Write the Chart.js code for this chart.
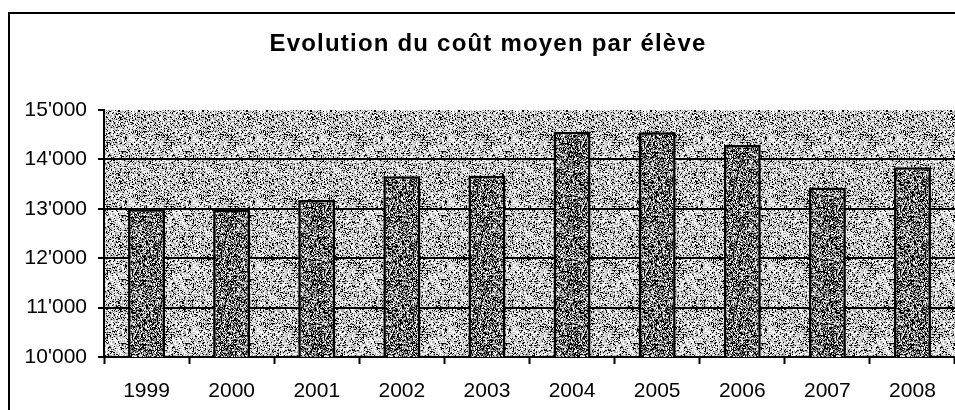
<!DOCTYPE html>
<html>
<head>
<meta charset="utf-8">
<script src="https://cdn.jsdelivr.net/npm/chart.js@4/dist/chart.umd.min.js"></script>
<style>
  html, body { margin: 0; padding: 0; background: #fff; }
  #wrap { width: 955px; height: 410px; }
</style>
</head>
<body>
<div id="wrap"><canvas id="chart" width="955" height="410"></canvas></div>
<script>
const years = ["1999", "2000", "2001", "2002", "2003", "2004", "2005", "2006", "2007", "2008"];
const coutMoyen = [12990, 12980, 13180, 13660, 13670, 14560, 14550, 14290, 13430, 13840];
const yTicks = [10000, 11000, 12000, 13000, 14000, 15000];
const titre = "Evolution du coût moyen par élève";

const FONT = "'Liberation Sans', Arial, sans-serif";

// small dithered textures, like the old printer-friendly fills
function ditherPattern(levels, seed) {
  const c = document.createElement("canvas");
  c.width = 64; c.height = 64;
  const g = c.getContext("2d");
  const img = g.createImageData(64, 64);
  let s = seed;
  const next = () => { s = (s * 1103515245 + 12345) & 0x7fffffff; return s / 0x7fffffff; };
  for (let i = 0; i < 64 * 64; i++) {
    const r = next();
    let acc = 0, v = 255;
    for (const [p, col] of levels) { acc += p; if (r < acc) { v = col; break; } }
    img.data[i * 4] = img.data[i * 4 + 1] = img.data[i * 4 + 2] = v;
    img.data[i * 4 + 3] = 255;
  }
  g.putImageData(img, 0, 0);
  return g.createPattern(c, "repeat");
}

const ctx = document.getElementById("chart").getContext("2d");
const plotFill = ditherPattern([[0.18, 0], [0.27, 170], [0.25, 220], [0.3, 255]], 7);
const barFill = ditherPattern([[0.38, 0], [0.27, 128], [0.17, 192], [0.18, 255]], 31);

const fmt = v => String(v).replace(/\B(?=(\d{3})+(?!\d))/g, "'");

const decor = {
  id: "decor",
  beforeDraw(chart) {
    const {ctx, chartArea: a} = chart;
    ctx.save();
    ctx.fillStyle = plotFill;
    ctx.fillRect(a.left, a.top, a.right - a.left, a.bottom - a.top);
    ctx.restore();
  },
  afterDraw(chart) {
    const {ctx} = chart;
    ctx.save();
    // outer frame
    ctx.strokeStyle = "#000";
    ctx.lineWidth = 2;
    ctx.beginPath();
    ctx.moveTo(9, 420);
    ctx.lineTo(9, 13);
    ctx.lineTo(960, 13);
    ctx.stroke();
    // title
    ctx.fillStyle = "#000";
    ctx.font = "bold 24px " + FONT;
    ctx.letterSpacing = "1.2px";
    ctx.textAlign = "center";
    ctx.textBaseline = "middle";
    ctx.fillText(titre, 488, 44);
    ctx.restore();
  }
};

new Chart(ctx, {
  type: "bar",
  data: {
    labels: years,
    datasets: [{
      label: "Coût moyen",
      data: coutMoyen,
      backgroundColor: barFill,
      borderColor: "#000",
      borderWidth: 2.5,
      borderSkipped: "start",
      barPercentage: 0.435,
      categoryPercentage: 1
    }]
  },
  options: {
    responsive: false,
    animation: false,
    layout: { padding: { top: 110, right: 0, left: 0, bottom: 0 } },
    plugins: {
      legend: { display: false },
      title: { display: false },
      tooltip: { enabled: false }
    },
    scales: {
      x: {
        afterFit: s => { s.height = 53; },
        grid: { offset: true, drawOnChartArea: false, color: "#000", tickLength: 7, tickWidth: 2 },
        border: { color: "#000", width: 2 },
        ticks: { color: "#000", font: { family: FONT, size: 21 }, padding: 15, maxRotation: 0 }
      },
      y: {
        min: 10000,
        max: 15000,
        afterFit: s => { s.width = 104; },
        afterBuildTicks: s => { s.ticks = yTicks.map(v => ({ value: v })); },
        grid: {
          color: c => (c.tick && c.tick.value === 15000 ? "rgba(0,0,0,0)" : "#000"),
          lineWidth: 2,
          tickColor: "#000",
          tickLength: 6,
          tickWidth: 2
        },
        border: { color: "#000", width: 2 },
        ticks: {
          color: "#000",
          font: { family: FONT, size: 21 },
          padding: 11,
          callback: v => fmt(v)
        }
      }
    }
  },
  plugins: [decor]
});
</script>
</body>
</html>
